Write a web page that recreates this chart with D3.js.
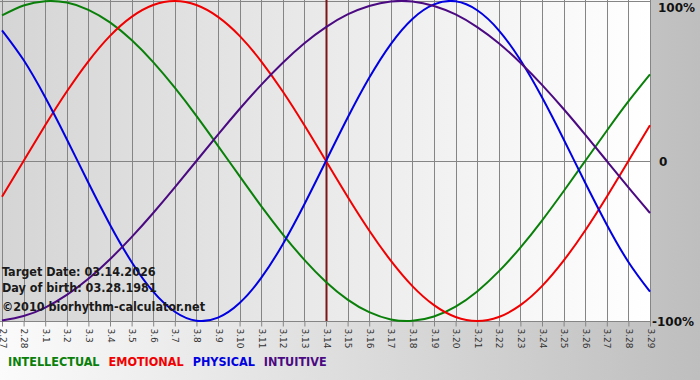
<!DOCTYPE html>
<html>
<head>
<meta charset="utf-8">
<script src="https://cdn.jsdelivr.net/npm/d3@7"></script>
<style>
  html, body { margin: 0; padding: 0; }
  svg { display: block; }
  .info { font-family: 'DejaVu Sans Condensed', 'DejaVu Sans', sans-serif; font-weight: bold; font-size: 12.5px; fill: #1a1a1a; }
  .pct { font-family: 'DejaVu Sans', sans-serif; font-weight: bold; font-size: 12px; fill: #111; }
  .legend { font-family: 'DejaVu Sans Condensed', 'DejaVu Sans', sans-serif; font-weight: bold; font-size: 12.5px; }
</style>
</head>
<body>
<svg width="700" height="380"></svg>
<script>
// Day labels along the bottom, 2.27 .. 3.29
const days = ['2.27', '2.28', '3.1', '3.2', '3.3', '3.4', '3.5', '3.6', '3.7', '3.8', '3.9',
  '3.10', '3.11', '3.12', '3.13', '3.14', '3.15', '3.16', '3.17', '3.18', '3.19', '3.20',
  '3.21', '3.22', '3.23', '3.24', '3.25', '3.26', '3.27', '3.28', '3.29']
const targetDay = '3.14'

// Cycle values per day (-1 .. 1)
const intellectual = [0.910, 0.972, 0.999, 0.990, 0.945, 0.866, 0.756, 0.618, 0.458, 0.282,
  0.095, -0.095, -0.282, -0.458, -0.618, -0.756, -0.866, -0.945, -0.990, -0.999, -0.972,
  -0.910, -0.815, -0.690, -0.541, -0.372, -0.189, 0, 0.189, 0.372, 0.541]
const emotional = [-0.223, 0, 0.223, 0.434, 0.623, 0.782, 0.901, 0.975, 1.000, 0.975, 0.901,
  0.782, 0.623, 0.434, 0.223, 0, -0.223, -0.434, -0.623, -0.782, -0.901, -0.975, -1.000,
  -0.975, -0.901, -0.782, -0.623, -0.434, -0.223, 0, 0.223]
const physical = [0.817, 0.631, 0.398, 0.136, -0.136, -0.398, -0.631, -0.817, -0.942, -0.998,
  -0.979, -0.888, -0.731, -0.520, -0.270, 0, 0.270, 0.520, 0.731, 0.888, 0.979, 0.998, 0.942,
  0.817, 0.631, 0.398, 0.136, -0.136, -0.398, -0.631, -0.817]
const intuitive = [-0.997, -0.969, -0.916, -0.837, -0.736, -0.614, -0.476, -0.325, -0.165, 0,
  0.165, 0.325, 0.476, 0.614, 0.736, 0.837, 0.916, 0.969, 0.997, 0.997, 0.969, 0.916, 0.837,
  0.736, 0.614, 0.476, 0.325, 0.165, 0, -0.165, -0.325]

const yTicks = [1, 0, -1]
const yTickLabels = ['100%', '0', '-100%']

const series = [
  { name: 'INTELLECTUAL', values: intellectual, color: '#0a800a' },
  { name: 'EMOTIONAL', values: emotional, color: '#f00000' },
  { name: 'PHYSICAL', values: physical, color: '#0000e0' },
  { name: 'INTUITIVE', values: intuitive, color: '#4b0a82' },
]

const infoLines = ['Target Date: 03.14.2026', 'Day of birth: 03.28.1981', '©2010 biorhythm-calculator.net']

// Plot box (left/right edge of the day grid, top/bottom of the value range)
const plotLeft = 2, plotRight = 650, plotTop = 0, plotBottom = 321

const svg = d3.select('svg')
const defs = svg.append('defs')

const bgGrad = defs.append('linearGradient').attr('id', 'bg')
bgGrad.append('stop').attr('offset', '0%').attr('stop-color', '#fbfbfb')
bgGrad.append('stop').attr('offset', '100%').attr('stop-color', '#bebebe')

const plotGrad = defs.append('linearGradient').attr('id', 'plotbg')
plotGrad.append('stop').attr('offset', '0%').attr('stop-color', '#d5d5d5')
plotGrad.append('stop').attr('offset', '100%').attr('stop-color', '#ffffff')

defs.append('clipPath').attr('id', 'clip')
  .append('rect').attr('x', 0).attr('y', plotTop)
  .attr('width', plotRight + 1).attr('height', plotBottom - plotTop + 1)

svg.append('rect').attr('width', 700).attr('height', 380).attr('fill', 'url(#bg)')
svg.append('rect').attr('x', 0).attr('y', plotTop)
  .attr('width', plotRight + 1).attr('height', plotBottom - plotTop)
  .attr('fill', 'url(#plotbg)')

const x = d3.scaleLinear().domain([0, days.length - 1]).range([plotLeft, plotRight])
const y = d3.scaleLinear().domain([-1, 1]).range([plotBottom, plotTop + 1])

// Vertical day grid lines
svg.append('g')
  .selectAll('line')
  .data(days)
  .enter()
  .append('line')
  .attr('x1', (_, i) => Math.round(x(i)) + 0.5)
  .attr('x2', (_, i) => Math.round(x(i)) + 0.5)
  .attr('y1', plotTop)
  .attr('y2', plotBottom)
  .attr('stroke', '#858585')

// Top, zero and bottom lines
svg.append('g')
  .selectAll('line')
  .data(yTicks)
  .enter()
  .append('line')
  .attr('x1', 0)
  .attr('x2', plotRight + 1)
  .attr('y1', (d) => Math.round(y(d)) + 0.5)
  .attr('y2', (d) => Math.round(y(d)) + 0.5)
  .attr('stroke', '#858585')

// Bottom axis with rotated day labels
const axis = svg.append('g')
  .attr('transform', `translate(0, ${plotBottom + 0.5})`)
  .call(d3.axisBottom(x)
    .tickValues(d3.range(days.length))
    .tickFormat((i) => days[i])
    .tickSize(5)
    .tickSizeOuter(0))
axis.select('.domain').remove()
axis.selectAll('.tick line').attr('stroke', '#858585')
axis.selectAll('.tick text')
  .attr('transform', 'rotate(90)')
  .attr('x', 7)
  .attr('y', 0)
  .attr('dy', '0.32em')
  .attr('text-anchor', 'start')
  .attr('font-family', 'DejaVu Sans, sans-serif')
  .attr('font-size', 9)
  .attr('fill', '#333')

// Target day marker
const ti = days.indexOf(targetDay)
svg.append('line')
  .attr('x1', Math.round(x(ti)) + 0.5)
  .attr('x2', Math.round(x(ti)) + 0.5)
  .attr('y1', plotTop)
  .attr('y2', plotBottom)
  .attr('stroke', '#7a1616')
  .attr('stroke-width', 2)

// Cycle curves
const line = d3.line()
  .x((_, i) => x(i))
  .y((d) => y(d))
  .curve(d3.curveNatural)

svg.append('g')
  .attr('clip-path', 'url(#clip)')
  .selectAll('path')
  .data(series)
  .enter()
  .append('path')
  .attr('d', (d) => line(d.values))
  .attr('fill', 'none')
  .attr('stroke', (d) => d.color)
  .attr('stroke-width', 2)

// Percent labels on the right
svg.append('g')
  .selectAll('text')
  .data(yTicks)
  .enter()
  .append('text')
  .attr('class', 'pct')
  .attr('x', (d) => (d === 0 ? 659 : d > 0 ? 658 : 652))
  .attr('y', (d) => (d > 0 ? y(d) + 11 : y(d) + 5))
  .text((_, i) => yTickLabels[i])

// Info text on the left
svg.append('g')
  .selectAll('text')
  .data(infoLines)
  .enter()
  .append('text')
  .attr('class', 'info')
  .attr('x', 2)
  .attr('y', (_, i) => [276, 292, 311][i])
  .text((d) => d)

// Legend
const legend = svg.append('text').attr('class', 'legend').attr('x', 8).attr('y', 366)
series.forEach((s, i) => {
  legend.append('tspan')
    .attr('dx', i === 0 ? 0 : 9)
    .attr('fill', s.color)
    .text(s.name)
})
</script>
</body>
</html>
